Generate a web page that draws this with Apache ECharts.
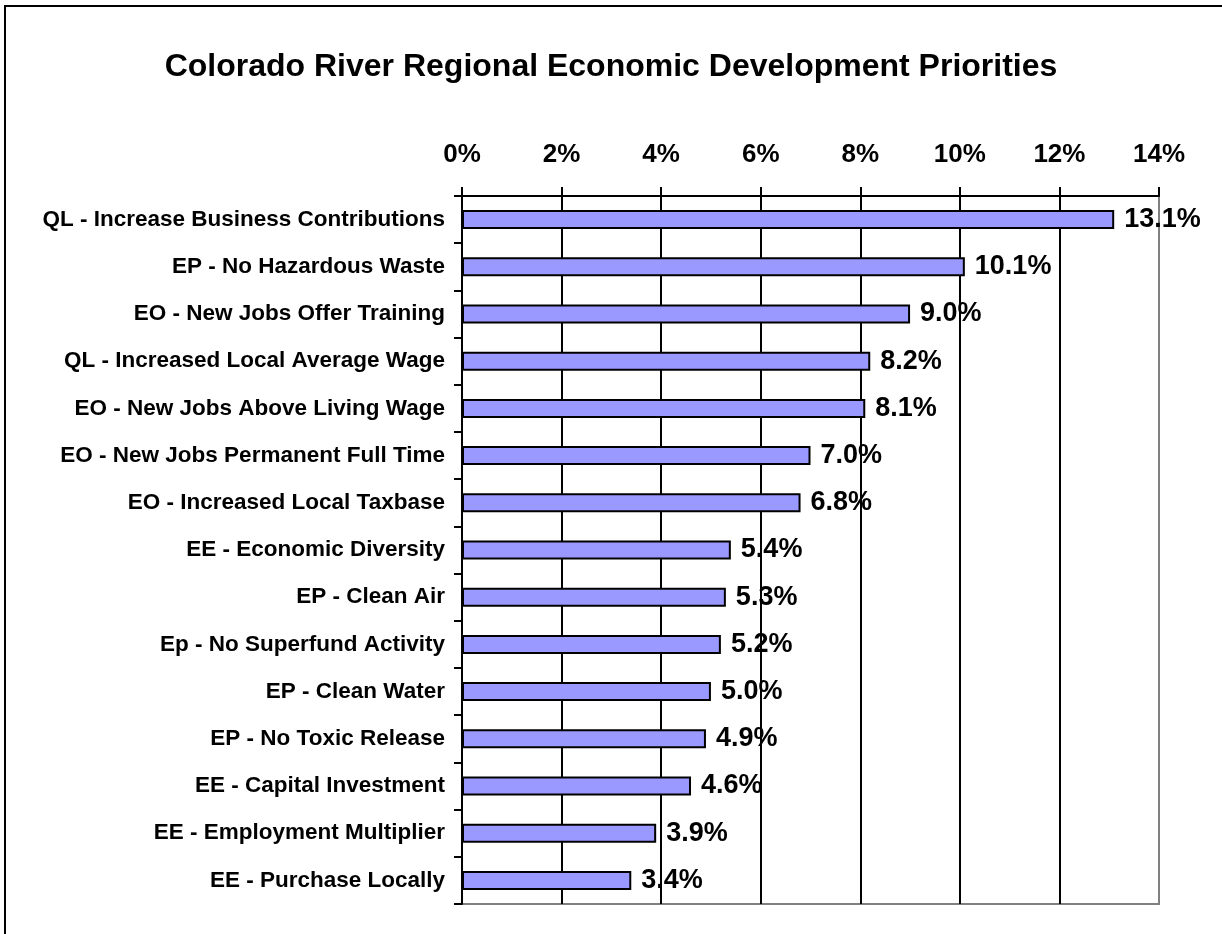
<!DOCTYPE html>
<html>
<head>
<meta charset="utf-8">
<title>Colorado River Regional Economic Development Priorities</title>
<script src="https://cdn.jsdelivr.net/npm/echarts@6/dist/echarts.min.js"></script>
<style>
  html, body { margin: 0; padding: 0; background: #fff; }
  #chart { width: 1222px; height: 934px; }
</style>
</head>
<body>
<div id="chart"></div>
<script>
// Priority categories, top to bottom
const categories = [
  'QL - Increase Business Contributions',
  'EP - No Hazardous Waste',
  'EO - New Jobs Offer Training',
  'QL - Increased Local Average Wage',
  'EO - New Jobs Above Living Wage',
  'EO - New Jobs Permanent Full Time',
  'EO - Increased Local Taxbase',
  'EE - Economic Diversity',
  'EP - Clean Air',
  'Ep - No Superfund Activity',
  'EP - Clean Water',
  'EP - No Toxic Release',
  'EE - Capital Investment',
  'EE - Employment Multiplier',
  'EE - Purchase Locally'
];

// Share of priority weight, in percent
const shares = [13.1, 10.1, 9.0, 8.2, 8.1, 7.0, 6.8, 5.4, 5.3, 5.2, 5.0, 4.9, 4.6, 3.9, 3.4];

// Value axis range (percent)
const axisMin = 0;
const axisMax = 14;
const axisStep = 2;

const FONT = '"Liberation Sans", Arial, Helvetica, sans-serif';

const chart = echarts.init(document.getElementById('chart'), null, { renderer: 'canvas' });

chart.setOption({
  backgroundColor: '#ffffff',
  animation: false,
  title: {
    text: 'Colorado River Regional Economic Development Priorities',
    left: 'center',
    top: 46,
    textStyle: { fontFamily: FONT, fontSize: 32, fontWeight: 'bold', color: '#000' }
  },
  graphic: [{
    type: 'rect',
    shape: { x: 5, y: 6, width: 1400, height: 1100 },
    style: { fill: 'none', stroke: '#000', lineWidth: 2 },
    silent: true
  }],
  grid: {
    left: 462, right: 63, top: 196, bottom: 30,
    show: true,
    backgroundColor: '#fff',
    borderColor: '#808080',
    borderWidth: 2,
    containLabel: false
  },
  xAxis: {
    type: 'value',
    position: 'top',
    min: axisMin,
    max: axisMax,
    interval: axisStep,
    axisLine: { show: true, lineStyle: { color: '#000', width: 2 } },
    axisTick: { show: true, inside: false, length: 9, lineStyle: { color: '#000', width: 2 } },
    axisLabel: {
      margin: 28,
      formatter: v => v + '%',
      fontFamily: FONT, fontSize: 26, fontWeight: 'bold', color: '#000'
    },
    splitLine: { show: true, showMinLine: false, showMaxLine: false, lineStyle: { color: '#000', width: 2 } }
  },
  yAxis: {
    type: 'category',
    data: categories,
    inverse: true,
    axisLine: { show: true, lineStyle: { color: '#000', width: 2 } },
    axisTick: { show: true, inside: false, length: 8, lineStyle: { color: '#000', width: 2 } },
    axisLabel: {
      margin: 17,
      fontFamily: FONT, fontSize: 22.5, fontWeight: 'bold', color: '#000'
    },
    splitLine: { show: false }
  },
  series: [{
    type: 'bar',
    data: shares,
    barWidth: 19,
    itemStyle: { color: '#9999FF', borderColor: '#000', borderWidth: 2 },
    label: {
      show: true,
      position: 'right',
      distance: 10,
      formatter: p => p.value.toFixed(1) + '%',
      fontFamily: FONT, fontSize: 27, fontWeight: 'bold', color: '#000'
    },
    z: 3
  }]
});
</script>
</body>
</html>
